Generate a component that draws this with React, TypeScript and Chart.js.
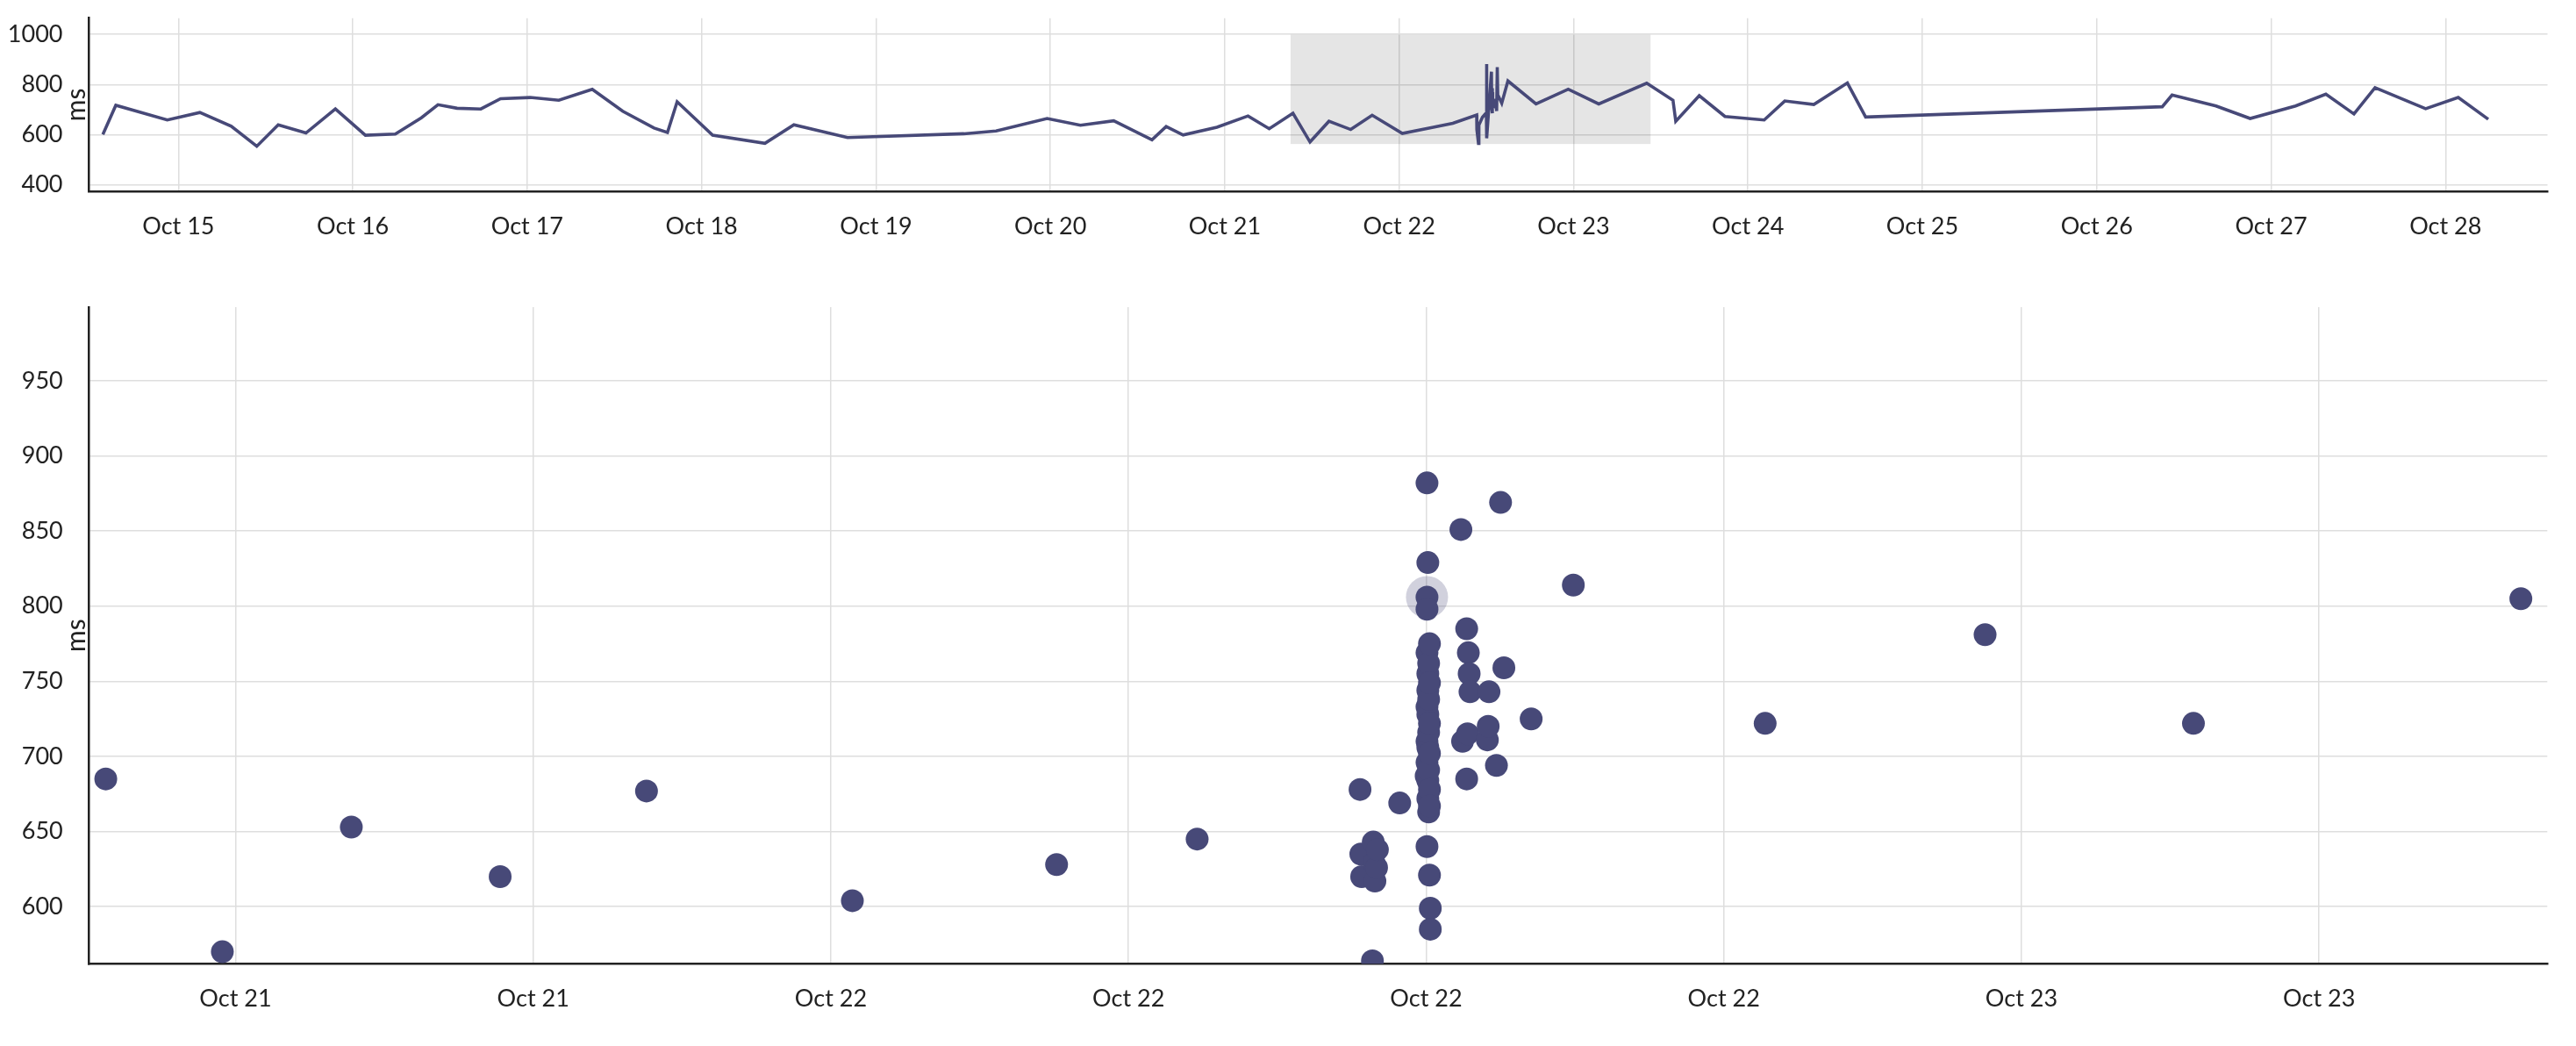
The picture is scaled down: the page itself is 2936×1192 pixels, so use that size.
import { useEffect, useRef } from 'react';
import { Chart, registerables } from 'chart.js';

Chart.register(...registerables);

// Response-time samples (UTC timestamps, minute precision) and their latency in ms
const TIMES: string[] = [
  '2019-10-14T13:36', '2019-10-14T15:23', '2019-10-14T22:28', '2019-10-15T02:57', '2019-10-15T07:16',
  '2019-10-15T10:47', '2019-10-15T13:44', '2019-10-15T17:33', '2019-10-15T21:36', '2019-10-16T01:44',
  '2019-10-16T05:51', '2019-10-16T09:26', '2019-10-16T11:43', '2019-10-16T14:21', '2019-10-16T17:37',
  '2019-10-16T20:20', '2019-10-17T00:24', '2019-10-17T04:21', '2019-10-17T08:57', '2019-10-17T13:09',
  '2019-10-17T17:27', '2019-10-17T19:18', '2019-10-17T20:38', '2019-10-18T01:31', '2019-10-18T08:43',
  '2019-10-18T12:42', '2019-10-18T20:05', '2019-10-19T12:06', '2019-10-19T16:32', '2019-10-19T23:33',
  '2019-10-20T04:08', '2019-10-20T08:43', '2019-10-20T13:59', '2019-10-20T15:56', '2019-10-20T18:16',
  '2019-10-20T22:55', '2019-10-21T03:12', '2019-10-21T06:07',
  '2019-10-21T09:23', '2019-10-21T11:44', '2019-10-21T14:20', '2019-10-21T17:20', '2019-10-21T20:17',
  '2019-10-22T00:26', '2019-10-22T04:33', '2019-10-22T07:23',
  '2019-10-22T10:40', '2019-10-22T10:41', '2019-10-22T10:42', '2019-10-22T10:55', '2019-10-22T10:56',
  '2019-10-22T10:57', '2019-10-22T10:58', '2019-10-22T11:00', '2019-10-22T11:01', '2019-10-22T11:28',
  '2019-10-22T12:00', '2019-10-22T12:01', '2019-10-22T12:01', '2019-10-22T12:01', '2019-10-22T12:01',
  '2019-10-22T12:01', '2019-10-22T12:01', '2019-10-22T12:01', '2019-10-22T12:01', '2019-10-22T12:02',
  '2019-10-22T12:02', '2019-10-22T12:02', '2019-10-22T12:02', '2019-10-22T12:02', '2019-10-22T12:02',
  '2019-10-22T12:02', '2019-10-22T12:03', '2019-10-22T12:03', '2019-10-22T12:03', '2019-10-22T12:03',
  '2019-10-22T12:03', '2019-10-22T12:04', '2019-10-22T12:04', '2019-10-22T12:04', '2019-10-22T12:04',
  '2019-10-22T12:04', '2019-10-22T12:04', '2019-10-22T12:04', '2019-10-22T12:05', '2019-10-22T12:05',
  '2019-10-22T12:42', '2019-10-22T12:44', '2019-10-22T12:49', '2019-10-22T12:49', '2019-10-22T12:50',
  '2019-10-22T12:51', '2019-10-22T12:52', '2019-10-22T12:53', '2019-10-22T13:14', '2019-10-22T13:15',
  '2019-10-22T13:16', '2019-10-22T13:25', '2019-10-22T13:30', '2019-10-22T13:34', '2019-10-22T14:07',
  '2019-10-22T14:58', '2019-10-22T18:50', '2019-10-22T23:16', '2019-10-23T03:28', '2019-10-23T10:04',
  '2019-10-23T13:41', '2019-10-23T14:04', '2019-10-23T17:18', '2019-10-23T20:50', '2019-10-24T02:14',
  '2019-10-24T05:04', '2019-10-24T09:04', '2019-10-24T13:41', '2019-10-24T16:12', '2019-10-26T09:01',
  '2019-10-26T10:22', '2019-10-26T16:25', '2019-10-26T21:07', '2019-10-27T03:22', '2019-10-27T07:32',
  '2019-10-27T11:24', '2019-10-27T14:18', '2019-10-27T21:16', '2019-10-28T01:45', '2019-10-28T05:53',
];

const LATENCY_MS: number[] = [
  600, 717, 658, 688, 633,
  553, 639, 606, 702, 597,
  602, 667, 719, 705, 702,
  743, 748, 737, 781, 693,
  626, 608, 731, 597, 565,
  639, 588, 603, 614, 664,
  637, 655, 579, 632, 598,
  629, 674, 623,
  685, 570, 653, 620, 677,
  604, 628, 645,
  678, 635, 620, 564, 643,
  629, 617, 626, 638, 669,
  687, 882, 806, 798, 769,
  733, 710, 696, 640, 829,
  755, 744, 728, 706, 684,
  672, 762, 738, 716, 691,
  663, 775, 749, 722, 702,
  678, 667, 621, 599, 585,
  851, 710, 785, 685, 715,
  769, 755, 743, 711, 720,
  743, 694, 869, 759, 725,
  814, 722, 781, 722, 805,
  737, 653, 755, 672, 658,
  734, 720, 806, 670, 711,
  758, 714, 664, 714, 761,
  682, 787, 703, 748, 661,
];

// Axis ticks and ranges
const OVERVIEW_X_TICKS = [
  '2019-10-15', '2019-10-16', '2019-10-17', '2019-10-18', '2019-10-19', '2019-10-20', '2019-10-21',
  '2019-10-22', '2019-10-23', '2019-10-24', '2019-10-25', '2019-10-26', '2019-10-27', '2019-10-28',
];
const OVERVIEW_Y_TICKS = [400, 600, 800, 1000];
const OVERVIEW_X_RANGE = ['2019-10-14T11:42', '2019-10-28T14:02'];
const OVERVIEW_Y_RANGE = [373, 1065];

const DETAIL_X_TICKS = [
  '2019-10-21T12:00', '2019-10-21T18:00', '2019-10-22T00:00', '2019-10-22T06:00',
  '2019-10-22T12:00', '2019-10-22T18:00', '2019-10-23T00:00', '2019-10-23T06:00',
];
const DETAIL_Y_TICKS = [600, 650, 700, 750, 800, 850, 900, 950];
// The brushed window: drives the detail chart's ranges and the grey band above
const SELECTION_X_RANGE = ['2019-10-21T09:03', '2019-10-23T10:36'];
const SELECTION_Y_RANGE = [562, 999];
const ACTIVE_POINT = { time: '2019-10-22T12:01', value: 806 };

const UNIT = 'ms';
const MONTHS = ['Jan', 'Feb', 'Mar', 'Apr', 'May', 'Jun', 'Jul', 'Aug', 'Sep', 'Oct', 'Nov', 'Dec'];

const SERIES_COLOR = '#474978';
const GRID_COLOR = '#dedede';
const AXIS_COLOR = '#222222';
const TEXT_COLOR = '#222222';
const FONT_FAMILY = "Lato, 'Open Sans', sans-serif";

const WIDTH = 2936;
const OVERVIEW_HEIGHT = 300;
const DETAIL_HEIGHT = 892;

const toMs = (s: string) => Date.parse(s.length === 10 ? `${s}T00:00:00Z` : `${s}:00Z`);
const dayLabel = (v: number) => {
  const d = new Date(v);
  return `${MONTHS[d.getUTCMonth()]} ${d.getUTCDate()}`;
};

const points = TIMES.map((t, i) => ({ x: toMs(t), y: LATENCY_MS[i] }));

const tickFont = { family: FONT_FAMILY, size: 27 };

function xAxis(range: string[], ticks: string[], height: number) {
  return {
    type: 'linear' as const,
    min: toMs(range[0]),
    max: toMs(range[1]),
    afterBuildTicks: (s: any) => {
      s.ticks = ticks.map((t) => ({ value: toMs(t) }));
    },
    afterFit: (s: any) => {
      s.height = height;
      s.paddingLeft = 0;
      s.paddingRight = 0;
      s.paddingTop = 0;
      s.paddingBottom = 0;
    },
    grid: { color: GRID_COLOR, lineWidth: 1.5, drawTicks: false },
    border: { display: true, color: AXIS_COLOR, width: 2.5 },
    ticks: {
      font: tickFont,
      color: TEXT_COLOR,
      padding: 24,
      autoSkip: false,
      maxRotation: 0,
      callback: (v: any) => dayLabel(Number(v)),
    },
  };
}

function yAxis(range: number[], ticks: number[], width: number) {
  return {
    type: 'linear' as const,
    min: range[0],
    max: range[1],
    afterBuildTicks: (s: any) => {
      s.ticks = ticks.map((t) => ({ value: t }));
    },
    afterFit: (s: any) => {
      s.width = width;
      s.paddingLeft = 0;
      s.paddingRight = 0;
      s.paddingTop = 0;
      s.paddingBottom = 0;
    },
    grid: { color: GRID_COLOR, lineWidth: 1.5, drawTicks: false },
    border: { display: true, color: AXIS_COLOR, width: 2.5 },
    ticks: {
      font: tickFont,
      color: TEXT_COLOR,
      padding: 30,
      autoSkip: false,
      callback: (v: any) => String(v),
    },
  };
}

// Rotated unit label that sits between the tick labels and the y axis
const unitTitle = {
  id: 'unitTitle',
  afterDraw(chart: any) {
    const { ctx, chartArea } = chart;
    ctx.save();
    ctx.translate(chartArea.left - 5, (chartArea.top + chartArea.bottom) / 2);
    ctx.rotate(-Math.PI / 2);
    ctx.font = `30px ${FONT_FAMILY}`;
    ctx.fillStyle = TEXT_COLOR;
    ctx.textAlign = 'center';
    ctx.textBaseline = 'alphabetic';
    ctx.fillText(UNIT, 0, 0);
    ctx.restore();
  },
};

// Grey brush band over the overview showing the detail window
const selectionBand = {
  id: 'selectionBand',
  beforeDatasetsDraw(chart: any) {
    const { ctx, scales } = chart;
    const x0 = scales.x.getPixelForValue(toMs(SELECTION_X_RANGE[0]));
    const x1 = scales.x.getPixelForValue(toMs(SELECTION_X_RANGE[1]));
    const y0 = scales.y.getPixelForValue(SELECTION_Y_RANGE[1]);
    const y1 = scales.y.getPixelForValue(SELECTION_Y_RANGE[0]);
    ctx.save();
    ctx.fillStyle = 'rgba(0,0,0,0.1)';
    ctx.fillRect(x0, y0, x1 - x0, y1 - y0);
    ctx.restore();
  },
};

// Soft halo behind the currently focused sample
const activeHalo = {
  id: 'activeHalo',
  beforeDatasetsDraw(chart: any) {
    const idx = TIMES.findIndex((t, i) => t === ACTIVE_POINT.time && LATENCY_MS[i] === ACTIVE_POINT.value);
    if (idx < 0) return;
    const el = chart.getDatasetMeta(0).data[idx];
    if (!el) return;
    const { ctx } = chart;
    ctx.save();
    ctx.fillStyle = 'rgba(71,73,120,0.25)';
    ctx.beginPath();
    ctx.arc(el.x, el.y, 24, 0, Math.PI * 2);
    ctx.fill();
    ctx.restore();
  },
};

export default function App() {
  const overviewRef = useRef<HTMLCanvasElement | null>(null);
  const detailRef = useRef<HTMLCanvasElement | null>(null);

  useEffect(() => {
    if (!overviewRef.current || !detailRef.current) return;

    const overview = new Chart(overviewRef.current, {
      type: 'line',
      data: {
        datasets: [
          {
            data: points,
            borderColor: SERIES_COLOR,
            borderWidth: 3.6,
            pointRadius: 0,
            tension: 0,
            fill: false,
          },
        ],
      },
      options: {
        animation: false,
        responsive: false,
        devicePixelRatio: 1,
        events: [],
        layout: { padding: { left: 0, top: 20.7, right: WIDTH - 2903.5, bottom: 0 } },
        plugins: { legend: { display: false }, tooltip: { enabled: false } },
        scales: {
          x: xAxis(OVERVIEW_X_RANGE, OVERVIEW_X_TICKS, OVERVIEW_HEIGHT - 218),
          y: yAxis(OVERVIEW_Y_RANGE, OVERVIEW_Y_TICKS, 101.5),
        },
      } as any,
      plugins: [selectionBand, unitTitle],
    });

    const detail = new Chart(detailRef.current, {
      type: 'scatter',
      data: {
        datasets: [
          {
            data: points,
            backgroundColor: SERIES_COLOR,
            borderWidth: 0,
            pointRadius: 13,
            pointHoverRadius: 13,
            clip: 0,
          },
        ],
      },
      options: {
        animation: false,
        responsive: false,
        devicePixelRatio: 1,
        events: [],
        layout: { padding: { left: 0, top: 50, right: WIDTH - 2903.3, bottom: 0 } },
        plugins: { legend: { display: false }, tooltip: { enabled: false } },
        scales: {
          x: xAxis(SELECTION_X_RANGE, DETAIL_X_TICKS, DETAIL_HEIGHT - 798.3),
          y: yAxis(SELECTION_Y_RANGE, DETAIL_Y_TICKS, 101.7),
        },
      } as any,
      plugins: [activeHalo, unitTitle],
    });

    return () => {
      overview.destroy();
      detail.destroy();
    };
  }, []);

  return (
    <div style={{ position: 'fixed', left: 0, top: 0, width: WIDTH, height: 1192, background: '#fff' }}>
      <canvas
        ref={overviewRef}
        width={WIDTH}
        height={OVERVIEW_HEIGHT}
        style={{ display: 'block', width: WIDTH, height: OVERVIEW_HEIGHT }}
      />
      <canvas
        ref={detailRef}
        width={WIDTH}
        height={DETAIL_HEIGHT}
        style={{ display: 'block', width: WIDTH, height: DETAIL_HEIGHT }}
      />
    </div>
  );
}
